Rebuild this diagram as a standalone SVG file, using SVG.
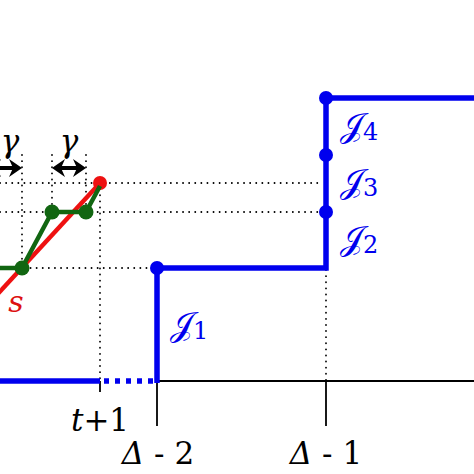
<svg xmlns="http://www.w3.org/2000/svg" width="474" height="474" viewBox="0 0 474 474">
<style>
.dot{stroke:#000;stroke-width:1.8;stroke-dasharray:0.1 6;stroke-linecap:round;fill:none}
.blue{stroke:#0000ee;stroke-width:5.5;fill:none}
.bdot{fill:#0000ee}
.gdot{fill:#116611}
.ax{stroke:#000;stroke-width:1.8;fill:none}
.lab{font-family:"DejaVu Serif",serif;font-size:31px;fill:#000}
.J{font-family:"DejaVu Serif",serif;font-size:34px;fill:#0000ee}
.shaft{stroke:#000;stroke-width:4;fill:none}
.head{fill:#000}
</style>
<g id="grid">
<line class="dot" x1="0" y1="268" x2="155" y2="268"/>
<line class="dot" x1="0" y1="212" x2="323" y2="212"/>
<line class="dot" x1="0" y1="183" x2="323" y2="183"/>
<line class="dot" x1="100" y1="183" x2="100" y2="380"/>
<line class="dot" x1="326" y1="270" x2="326" y2="380"/>
<line class="dot" x1="22" y1="155" x2="22" y2="268"/>
<line class="dot" x1="52" y1="155" x2="52" y2="212"/>
<line class="dot" x1="86" y1="155" x2="86" y2="212"/>
</g>
<g id="axis">
<line class="ax" x1="157" y1="381" x2="474" y2="381"/>
<line class="ax" x1="100" y1="381" x2="100" y2="392"/>
<line class="ax" x1="157" y1="381" x2="157" y2="426"/>
<line class="ax" x1="326" y1="381" x2="326" y2="426"/>
<text class="lab" x="100" y="431" text-anchor="middle"><tspan font-style="italic">t</tspan>+1</text>
<text class="lab" x="158" y="464" text-anchor="middle"><tspan font-style="italic">Δ</tspan> - 2</text>
<text class="lab" x="326" y="464" text-anchor="middle"><tspan font-style="italic">Δ</tspan> - 1</text>
</g>
<g id="gamma">
<line class="shaft" x1="-10" y1="168" x2="16" y2="168"/>
<path class="head" d="M22,168 L9,159 L13,168 L9,177 Z"/>
<path class="head" d="M-12,168 L1,159 L-3,168 L1,177 Z"/>
<line class="shaft" x1="60" y1="168" x2="78" y2="168"/>
<path class="head" d="M52,168 L65,159 L61,168 L65,177 Z"/>
<path class="head" d="M86,168 L73,159 L77,168 L73,177 Z"/>
<text class="lab" x="10" y="152" text-anchor="middle" font-style="italic" font-size="28">γ</text>
<text class="lab" x="69" y="152" text-anchor="middle" font-style="italic" font-size="28">γ</text>
</g>
<g id="s">
<line x1="100" y1="183" x2="-6" y2="298" stroke="#ee1111" stroke-width="4.5"/>
<circle cx="100" cy="183" r="7" fill="#ee1111"/>
<text x="16" y="312" font-family="DejaVu Serif,serif" font-style="italic" font-size="30" fill="#dd1111" text-anchor="middle">s</text>
</g>
<g id="green">
<polyline points="-2,268 22,268 52,212 86,212 100,186" stroke="#116611" stroke-width="4.5" fill="none" stroke-linejoin="round"/>
<circle class="gdot" cx="22" cy="268" r="7.5"/>
<circle class="gdot" cx="52" cy="212" r="7.5"/>
<circle class="gdot" cx="86" cy="212" r="7.5"/>
</g>
<g id="J">
<polyline class="blue" points="-2,381 100,381"/>
<line class="blue" x1="104" y1="381" x2="155" y2="381" stroke-dasharray="5 6"/>
<polyline class="blue" points="157,383 157,268 326,268 326,98 474,98"/>
<circle class="bdot" cx="157" cy="268" r="7"/>
<circle class="bdot" cx="326" cy="98" r="7"/>
<circle class="bdot" cx="326" cy="155" r="7"/>
<circle class="bdot" cx="326" cy="212" r="7"/>
</g>
<g id="J1"><text class="J" x="170" y="336">𝒥<tspan font-size="24" dy="3">1</tspan></text></g>
<g id="J2"><text class="J" x="340" y="250">𝒥<tspan font-size="24" dy="3">2</tspan></text></g>
<g id="J3"><text class="J" x="340" y="193">𝒥<tspan font-size="24" dy="3">3</tspan></text></g>
<g id="J4"><text class="J" x="340" y="137">𝒥<tspan font-size="24" dy="3">4</tspan></text></g>
</svg>
